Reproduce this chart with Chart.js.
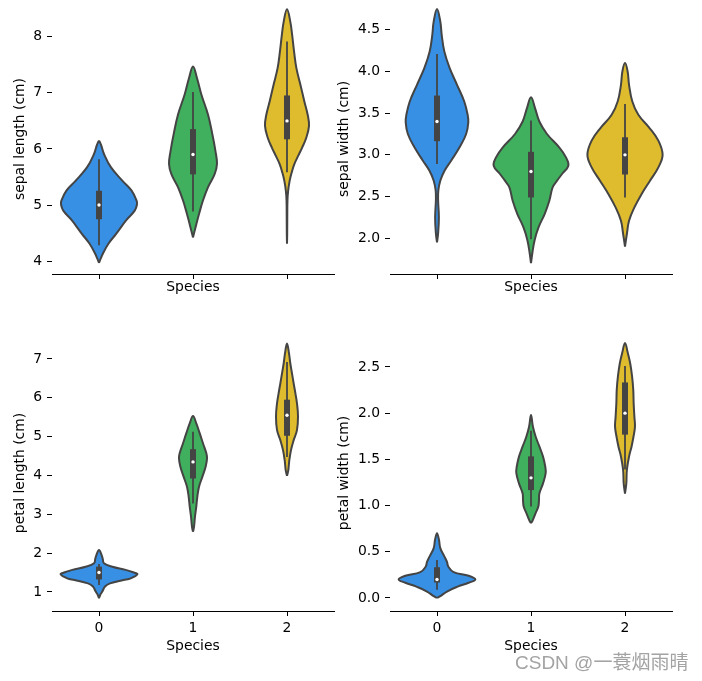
<!DOCTYPE html>
<html><head><meta charset="utf-8">
<script src="https://cdn.jsdelivr.net/npm/chart.js@4/dist/chart.umd.min.js"></script>
<style>
html,body{margin:0;padding:0;background:#fff;}
#wrap{position:relative;width:702px;height:681px;overflow:hidden;background:#fff;}
canvas{position:absolute;}
#wm{position:absolute;left:515px;top:653px;font-size:19px;line-height:19px;font-family:"Liberation Sans","Noto Sans CJK SC",sans-serif;color:#a3a3a3;white-space:nowrap;text-shadow:0 0 1px #fff;}
</style></head><body>
<div id="wrap">
<canvas id="c0" width="340" height="300" style="left:0;top:0"></canvas>
<canvas id="c1" width="367" height="300" style="left:335px;top:0"></canvas>
<canvas id="c2" width="340" height="361" style="left:0;top:320px"></canvas>
<canvas id="c3" width="367" height="361" style="left:335px;top:320px"></canvas>
<div id="wm">CSDN @一蓑烟雨晴</div>
</div>
<script>
// ---- categories / colours ----
const species = [0, 1, 2];
const speciesColors = ['#3890e4', '#40b05e', '#dfbb2e'];
const outline = '#444444';

// ---- tick labels ----
const sepalLengthTicks = [4, 5, 6, 7, 8];
const sepalWidthTicks = [2.0, 2.5, 3.0, 3.5, 4.0, 4.5];
const petalLengthTicks = [1, 2, 3, 4, 5, 6, 7];
const petalWidthTicks = [0.0, 0.5, 1.0, 1.5, 2.0, 2.5];

// ---- violin outlines: value levels and half-widths (in category units) ----
// sepal length
const slSetosaY = [3.97, 4.14, 4.31, 4.49, 4.73, 4.90, 5.01, 5.08, 5.26, 5.43, 5.67, 5.91, 6.08, 6.14];
const slSetosaW = [0, 0.043, 0.10, 0.184, 0.29, 0.38, 0.404, 0.40, 0.345, 0.25, 0.128, 0.053, 0.02, 0];
const slVersicolorY = [4.42, 4.61, 4.84, 5.08, 5.32, 5.55, 5.73, 5.97, 6.26, 6.61, 6.97, 7.26, 7.47];
const slVersicolorW = [0, 0.028, 0.064, 0.106, 0.16, 0.23, 0.255, 0.238, 0.206, 0.16, 0.089, 0.043, 0];
const slVirginicaY = [4.31, 4.49, 4.78, 5.08, 5.25, 5.43, 5.58, 5.73, 5.88, 6.02, 6.20, 6.41, 6.61, 6.85, 7.15, 7.44, 7.74, 8.03, 8.27, 8.49];
const slVirginicaW = [0, 0.002, 0.003, 0.005, 0.012, 0.028, 0.05, 0.078, 0.12, 0.16, 0.205, 0.234, 0.22, 0.184, 0.142, 0.10, 0.075, 0.055, 0.035, 0];
// sepal width
const swSetosaY = [1.95, 2.06, 2.25, 2.45, 2.57, 2.69, 2.81, 2.93, 3.09, 3.25, 3.39, 3.48, 3.64, 3.84, 4.04, 4.24, 4.44, 4.60, 4.75];
const swSetosaW = [0, 0.012, 0.02, 0.012, 0.014, 0.035, 0.08, 0.15, 0.24, 0.31, 0.333, 0.326, 0.29, 0.213, 0.135, 0.078, 0.05, 0.035, 0];
const swVersicolorY = [1.70, 1.82, 1.98, 2.13, 2.29, 2.45, 2.61, 2.69, 2.77, 2.87, 2.97, 3.09, 3.25, 3.40, 3.56, 3.69];
const swVersicolorW = [0, 0.014, 0.039, 0.08, 0.145, 0.195, 0.23, 0.277, 0.33, 0.397, 0.372, 0.30, 0.17, 0.089, 0.043, 0];
const swVirginicaY = [1.90, 2.06, 2.21, 2.37, 2.53, 2.69, 2.85, 3.0, 3.17, 3.33, 3.48, 3.64, 3.84, 4.0, 4.10];
const swVirginicaW = [0, 0.021, 0.043, 0.10, 0.177, 0.266, 0.355, 0.40, 0.355, 0.255, 0.142, 0.078, 0.043, 0.028, 0];
// petal length
const plSetosaY = [0.84, 0.93, 1.01, 1.14, 1.22, 1.31, 1.35, 1.455, 1.50, 1.57, 1.65, 1.74, 1.85, 1.95, 2.08];
const plSetosaW = [0, 0.014, 0.035, 0.064, 0.117, 0.26, 0.337, 0.408, 0.372, 0.284, 0.142, 0.053, 0.04, 0.028, 0];
const plVersicolorY = [2.55, 2.68, 2.94, 3.20, 3.45, 3.71, 3.97, 4.23, 4.44, 4.57, 4.83, 5.09, 5.34, 5.53];
const plVersicolorW = [0, 0.011, 0.021, 0.035, 0.046, 0.064, 0.10, 0.135, 0.149, 0.142, 0.106, 0.071, 0.035, 0];
const plVirginicaY = [3.99, 4.14, 4.40, 4.66, 4.91, 5.17, 5.52, 5.86, 6.12, 6.37, 6.63, 6.89, 7.15, 7.40];
const plVirginicaW = [0, 0.014, 0.025, 0.043, 0.071, 0.106, 0.117, 0.106, 0.089, 0.071, 0.053, 0.035, 0.021, 0];
// petal width
const pwSetosaY = [0.0, 0.02, 0.07, 0.12, 0.165, 0.20, 0.24, 0.28, 0.34, 0.39, 0.45, 0.54, 0.63, 0.70];
const pwSetosaW = [0, 0.035, 0.106, 0.213, 0.337, 0.408, 0.337, 0.177, 0.12, 0.106, 0.078, 0.035, 0.021, 0];
const pwVersicolorY = [0.81, 0.84, 0.92, 0.99, 1.06, 1.13, 1.24, 1.35, 1.42, 1.53, 1.64, 1.745, 1.85, 1.98];
const pwVersicolorW = [0, 0.018, 0.05, 0.078, 0.085, 0.089, 0.128, 0.156, 0.152, 0.128, 0.089, 0.05, 0.021, 0];
const pwVirginicaY = [1.13, 1.24, 1.385, 1.53, 1.64, 1.745, 1.854, 1.96, 2.11, 2.25, 2.40, 2.54, 2.65, 2.76];
const pwVirginicaW = [0, 0.014, 0.02, 0.043, 0.07, 0.09, 0.106, 0.1, 0.092, 0.088, 0.075, 0.055, 0.03, 0];

// ---- inner box statistics [setosa, versicolor, virginica] ----
const slWhiskerLow = [4.3, 4.9, 5.6], slQ1 = [4.8, 5.6, 6.225], slMedian = [5.0, 5.9, 6.5], slQ3 = [5.2, 6.3, 6.9], slWhiskerHigh = [5.8, 7.0, 7.9];
const swWhiskerLow = [2.9, 2.0, 2.5], swQ1 = [3.2, 2.525, 2.8], swMedian = [3.4, 2.8, 3.0], swQ3 = [3.675, 3.0, 3.175], swWhiskerHigh = [4.2, 3.4, 3.6];
const plWhiskerLow = [1.2, 3.3, 4.5], plQ1 = [1.4, 4.0, 5.1], plMedian = [1.5, 4.35, 5.55], plQ3 = [1.575, 4.6, 5.875], plWhiskerHigh = [1.7, 5.1, 6.9];
const pwWhiskerLow = [0.1, 1.0, 1.4], pwQ1 = [0.2, 1.2, 1.8], pwMedian = [0.2, 1.3, 2.0], pwQ3 = [0.3, 1.5, 2.3], pwWhiskerHigh = [0.4, 1.8, 2.5];

const FONT = {family: '"DejaVu Sans", sans-serif', size: 13.9};

function buildDatasets(levels, widths, lo, q1, med, q3, hi) {
  const ds = [];
  species.forEach((c, k) => {
    const ys = levels[k], ws = widths[k];
    const pts = [];
    for (let i = 0; i < ys.length; i++) pts.push({x: c + ws[i], y: ys[i]});
    for (let i = ys.length - 2; i >= 0; i--) pts.push({x: c - ws[i], y: ys[i]});
    ds.push({type: 'line', data: pts, fill: 'shape', backgroundColor: speciesColors[k], borderColor: outline,
      borderWidth: 2, pointRadius: 0, tension: 0.4, order: 3, clip: false});
    ds.push({type: 'line', data: [{x: c, y: lo[k]}, {x: c, y: hi[k]}], borderColor: outline, borderWidth: 1.8,
      borderCapStyle: 'square', pointRadius: 0, fill: false, order: 2, clip: false});
    ds.push({type: 'line', data: [{x: c, y: q1[k]}, {x: c, y: q3[k]}], borderColor: outline, borderWidth: 6,
      borderCapStyle: 'square', pointRadius: 0, fill: false, order: 1, clip: false});
    ds.push({type: 'scatter', data: [{x: c, y: med[k]}], backgroundColor: '#ffffff', borderWidth: 0,
      pointRadius: 1.7, order: 0, clip: false});
  });
  return ds;
}

function makePanel(id, p) {
  new Chart(document.getElementById(id), {
    type: 'scatter',
    data: {datasets: buildDatasets(p.levels, p.widths, p.lo, p.q1, p.med, p.q3, p.hi)},
    options: {
      responsive: false, animation: false, events: [],
      layout: {padding: {top: p.padTop, left: 0, right: p.padRight, bottom: 0}},
      plugins: {legend: {display: false}, tooltip: {enabled: false}},
      scales: {
        x: {
          type: 'linear', min: -0.5, max: 2.5,
          afterBuildTicks: s => { s.ticks = species.map(v => ({value: v})); },
          afterFit: s => { s.height = p.xHeight; s.paddingLeft = 0; s.paddingRight = 0; },
          grid: {display: true, drawOnChartArea: false, drawTicks: true, tickLength: 5, color: '#000', lineWidth: 1},
          border: {display: true, color: '#000', width: 1},
          ticks: {color: '#000', font: FONT, padding: 4, maxRotation: 0, autoSkip: false,
            callback: v => p.showX ? String(v) : ''},
          title: {display: true, text: 'Species', color: '#000', font: FONT, padding: {top: 0, bottom: p.xTitlePad}}
        },
        y: {
          type: 'linear', min: p.ymin, max: p.ymax,
          afterBuildTicks: s => { s.ticks = p.ticks.map(v => ({value: v})); },
          afterFit: s => { s.width = p.yWidth; s.paddingTop = 0; s.paddingBottom = 0; },
          grid: {display: true, drawOnChartArea: false, drawTicks: true, tickLength: 5, color: '#000', lineWidth: 1},
          border: {display: false},
          ticks: {color: '#000', font: FONT, padding: 5, autoSkip: false, callback: v => v.toFixed(p.dec)},
          title: {display: true, text: p.label, color: '#000', font: FONT, padding: {top: p.yTitlePad, bottom: 0}}
        }
      }
    }
  });
}

makePanel('c0', {
  levels: [slSetosaY, slVersicolorY, slVirginicaY], widths: [slSetosaW, slVersicolorW, slVirginicaW],
  lo: slWhiskerLow, q1: slQ1, med: slMedian, q3: slQ3, hi: slWhiskerHigh,
  ticks: sepalLengthTicks, dec: 0, label: 'sepal length (cm)',
  ymin: 3.77, ymax: 8.584, padTop: 2, padRight: 6, xHeight: 26, yWidth: 52, xTitlePad: 4, yTitlePad: 11.7, showX: false
});
makePanel('c1', {
  levels: [swSetosaY, swVersicolorY, swVirginicaY], widths: [swSetosaW, swVersicolorW, swVirginicaW],
  lo: swWhiskerLow, q1: swQ1, med: swMedian, q3: swQ3, hi: swWhiskerHigh,
  ticks: sepalWidthTicks, dec: 1, label: 'sepal width (cm)',
  ymin: 1.571, ymax: 4.809, padTop: 2, padRight: 30, xHeight: 26, yWidth: 55, xTitlePad: 4, yTitlePad: 1, showX: false
});
makePanel('c2', {
  levels: [plSetosaY, plVersicolorY, plVirginicaY], widths: [plSetosaW, plVersicolorW, plVirginicaW],
  lo: plWhiskerLow, q1: plQ1, med: plMedian, q3: plQ3, hi: plWhiskerHigh,
  ticks: petalLengthTicks, dec: 0, label: 'petal length (cm)',
  ymin: 0.51, ymax: 7.618, padTop: 15, padRight: 6, xHeight: 70, yWidth: 52, xTitlePad: 26.7, yTitlePad: 11.7, showX: true
});
makePanel('c3', {
  levels: [pwSetosaY, pwVersicolorY, pwVirginicaY], widths: [pwSetosaW, pwVersicolorW, pwVirginicaW],
  lo: pwWhiskerLow, q1: pwQ1, med: pwMedian, q3: pwQ3, hi: pwWhiskerHigh,
  ticks: petalWidthTicks, dec: 1, label: 'petal width (cm)',
  ymin: -0.141, ymax: 2.846, padTop: 15, padRight: 30, xHeight: 70, yWidth: 55, xTitlePad: 26.7, yTitlePad: 1, showX: true
});
</script>
</body></html>
